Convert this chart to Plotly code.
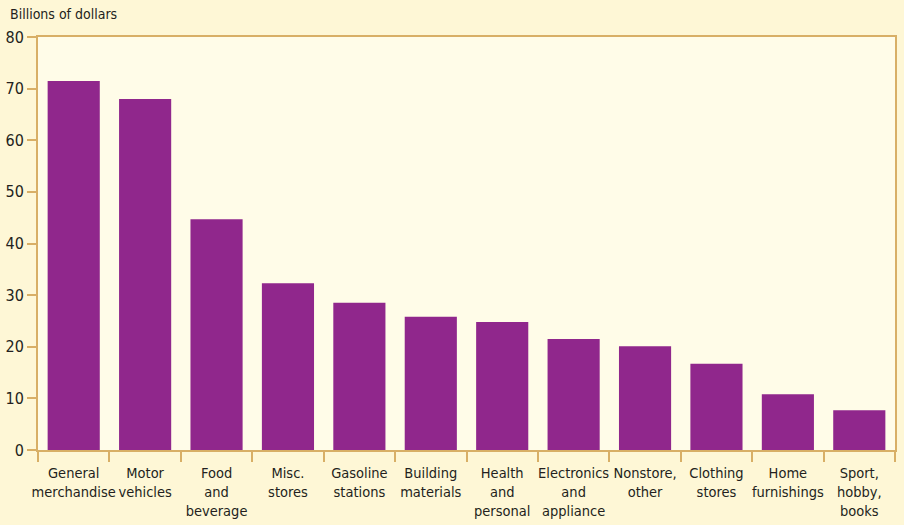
import plotly.graph_objects as go

categories = ["General<br>merchandise", "Motor<br>vehicles", "Food<br>and<br>beverage", "Misc.<br>stores",
              "Gasoline<br>stations", "Building<br>materials", "Health<br>and<br>personal",
              "Electronics<br>and<br>appliance", "Nonstore,<br>other", "Clothing<br>stores",
              "Home<br>furnishings", "Sport,<br>hobby,<br>books"]
values = [71.5, 68.0, 44.7, 32.3, 28.5, 25.8, 24.8, 21.5, 20.1, 16.7, 10.8, 7.7]
y_ticks = [0, 10, 20, 30, 40, 50, 60, 70, 80]

FONT = "DejaVu Sans Condensed, Liberation Sans Narrow, Roboto, sans-serif"
AXIS = "#D8AF66"

fig = go.Figure(go.Bar(x=categories, y=values, marker=dict(color="#90278C", line=dict(width=0)),
                       width=0.73))
fig.update_layout(
    width=904, height=525,
    margin=dict(l=38, r=9, t=37, b=75),
    paper_bgcolor="#FEF7D6", plot_bgcolor="#FFFCE8",
    font=dict(family=FONT, size=15, color="#231F20"),
    showlegend=False,
    bargap=0.27,
)
fig.update_xaxes(showline=True, linecolor=AXIS, linewidth=2, mirror=True,
                 ticks="outside", tickson="boundaries", ticklen=10, tickcolor=AXIS, tickwidth=2,
                 showgrid=False, tickangle=0, tickfont=dict(size=14.5), ticklabelstandoff=9,
                 automargin=False)
fig.update_yaxes(range=[0, 80], tickvals=y_ticks, showline=True, linecolor=AXIS, linewidth=2, mirror=True,
                 ticks="outside", ticklen=9, tickcolor=AXIS, tickwidth=2, showgrid=False, zeroline=False,
                 tickfont=dict(size=16), automargin=False)
fig.add_annotation(text="Billions of dollars", xref="paper", yref="paper", x=-0.035, y=1.055,
                   xanchor="left", yanchor="middle", showarrow=False, font=dict(size=14, family=FONT))
fig.write_html("out.html", config={"displayModeBar": False},
               post_script="document.body.style.margin='0';document.body.style.padding='0';")
